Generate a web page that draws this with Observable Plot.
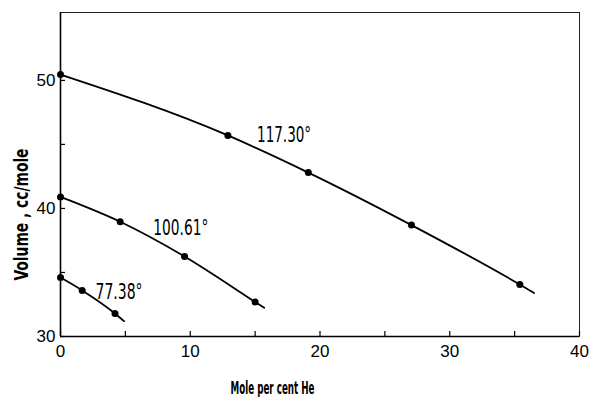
<!DOCTYPE html>
<html><head><meta charset="utf-8">
<script src="https://cdn.jsdelivr.net/npm/d3@7"></script>
<script src="https://cdn.jsdelivr.net/npm/@observablehq/plot@0.6"></script>
<style>
body{margin:0;background:#fff}
</style></head><body><div id="chart"></div>
<script>
// ---- data ----
const xTicks = [0, 10, 20, 30, 40];
const xMinorTicks = [5, 15, 25, 35];
const yTicks = [30, 40, 50];
const yMinorTicks = [35, 45];
const seriesNames = ["117.30°", "100.61°", "77.38°"];
const heX117 = [0, 12.9, 19.1, 27.05, 35.4];
const vol117 = [50.45, 45.7, 42.8, 38.7, 34.06];
const heX100 = [0, 4.6, 9.56, 15.0];
const vol100 = [40.9, 38.96, 36.25, 32.7];
const heX77 = [0, 1.67, 4.2];
const vol77 = [34.6, 33.6, 31.8];
// extrapolated curve ends (drawn slightly beyond last point)
const endX = [36.5, 15.7, 4.9];
const endVol = [33.4, 32.24, 31.2];
// label anchors
const labelX = [15.15, 7.15, 2.7];
const labelVol = [45.7, 38.5, 33.45];
const labelWidths = [54, 55, 47];
const xTitle = "Mole per cent He";
const yTitle = "Volume , cc/mole";

// ---- build tables ----
const xs = [heX117, heX100, heX77];
const vs = [vol117, vol100, vol77];
const points = [];
const lines = [];
seriesNames.forEach((s, i) => {
  xs[i].forEach((x, j) => {
    points.push({s, x, v: vs[i][j]});
    lines.push({s, x, v: vs[i][j]});
  });
  lines.push({s, x: endX[i], v: endVol[i]});
});
const labels = seriesNames.map((s, i) => ({s, x: labelX[i], v: labelVol[i]}));

const narrow = "'Liberation Sans Narrow', 'DejaVu Sans Condensed', 'Arial Narrow', sans-serif";
const W = 589, H = 397, mL = 60, mR = 10, mT = 12, mB = 61;
const plotW = W - mL - mR, plotH = H - mT - mB;

const chart = Plot.plot({
  width: W, height: H,
  marginLeft: mL, marginRight: mR, marginTop: mT, marginBottom: mB,
  x: {domain: [0, 40]},
  y: {domain: [30, 55.3]},
  style: {fontFamily: "'Liberation Sans', Arial, sans-serif", background: "white", color: "black"},
  marks: [
    Plot.frame({strokeWidth: 1, stroke: "#222"}),
    Plot.ruleX([0], {strokeWidth: 1.6}),
    Plot.ruleY([30], {strokeWidth: 1.6}),
    Plot.tickX([...xTicks, ...xMinorTicks], {x: d => d, insetTop: plotH - 5, strokeWidth: 1.2}),
    Plot.tickY([...yTicks, ...yMinorTicks], {y: d => d, insetRight: plotW - 5, strokeWidth: 1.2}),
    Plot.axisX(xTicks, {anchor: "bottom", tickSize: 0, tickPadding: 8, fontSize: 17, label: null}),
    Plot.axisY(yTicks, {anchor: "left", tickSize: 0, tickPadding: 5, fontSize: 17, label: null}),
    Plot.line(lines, {x: "x", y: "v", z: "s", curve: "monotone-x", stroke: "black", strokeWidth: 1.8}),
    Plot.dot(points, {x: "x", y: "v", r: 3.5, fill: "black"}),
    Plot.text(labels, {x: "x", y: "v", text: "s", textAnchor: "start", fontSize: 22, fontFamily: narrow}),
    Plot.text([xTitle], {text: d => d, frameAnchor: "bottom", textAnchor: "middle", lineAnchor: "middle", dx: -47.5, dy: 52, fontSize: 18, fontWeight: "bold", fontFamily: narrow}),
    Plot.text([yTitle], {text: d => d, frameAnchor: "left", textAnchor: "middle", lineAnchor: "middle", dx: -39, dy: 40, rotate: -90, fontSize: 20, fontWeight: "bold", fontFamily: narrow})
  ]
});
document.getElementById("chart").appendChild(chart);

// fit condensed text widths to the reference
const widths = {[xTitle]: 84, [yTitle]: 132};
seriesNames.forEach((s, i) => widths[s] = labelWidths[i]);
d3.select(chart).selectAll("text").each(function() {
  const t = this.textContent;
  if (widths[t]) d3.select(this).attr("textLength", widths[t]).attr("lengthAdjust", "spacingAndGlyphs");
});
</script>
</body></html>
